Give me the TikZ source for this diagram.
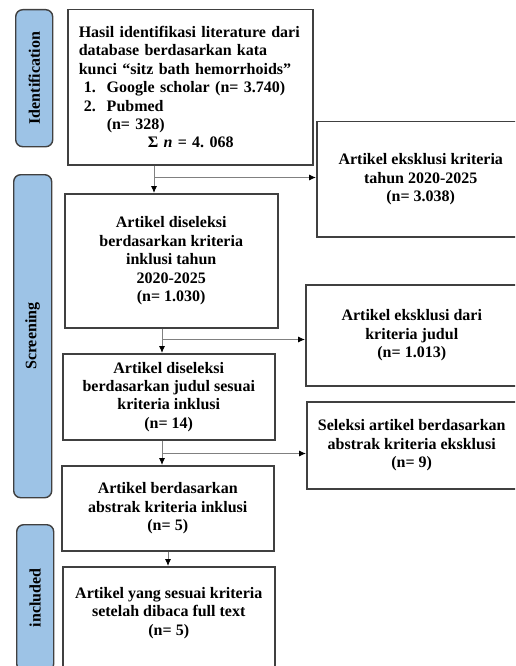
\documentclass[tikz,border=0pt]{standalone}
\usepackage{fontspec}
\setmainfont{Liberation Serif}
\usetikzlibrary{arrows.meta}
\definecolor{pillblue}{RGB}{157,195,230}
\definecolor{boxline}{RGB}{64,64,64}

\begin{document}
\begin{tikzpicture}[x=1pt,y=-1pt,
  every node/.style={font=\fontsize{16}{18.4}\selectfont\bfseries,anchor=north west},
  stage/.style={draw=boxline,fill=pillblue,line width=1.4pt,rounded corners=7pt,inner sep=0pt},
  stepbox/.style={draw=boxline,line width=1.5pt,align=center,inner sep=4pt},
  link/.style={draw=gray,line width=0.9pt,-{Latex[black,length=7pt,width=6pt]}}]
\useasboundingbox (0,0) rectangle (515,666);
\clip (0,0) rectangle (515,666);
% stages
\node[stage,minimum width=37pt,minimum height=137pt] (ident) at (15,9) {\rotatebox{90}{Identification}};
\node[stage,minimum width=38pt,minimum height=323pt] (screen) at (13,174) {\rotatebox{90}{Screening}};
\node[stage,minimum width=37pt,minimum height=146pt] (incl) at (16,524) {\rotatebox{90}{included}};
% main column
\node[stepbox,align=left,text width=223pt,inner xsep=11pt,minimum height=155pt] (hasil) at (67,9)
  {Hasil identifikasi literature dari\\
   database berdasarkan kata\\
   kunci “sitz bath hemorrhoids”\\
   \hspace*{5pt}1.\hspace*{11pt}Google scholar (n= 3.740)\\
   \hspace*{5pt}2.\hspace*{11pt}Pubmed\\
   \hspace*{28pt}(n= 328)\\
   \hspace*{69pt}Σ \textit{n} = 4.\ 068};
\node[stepbox,minimum width=213pt,minimum height=134pt] (tahun) at (64,193)
  {Artikel diseleksi\\berdasarkan kriteria\\inklusi tahun\\2020-2025\\(n= 1.030)};
\node[stepbox,minimum width=212pt,minimum height=86pt] (judul) at (62,353)
  {Artikel diseleksi\\berdasarkan judul sesuai\\kriteria inklusi\\(n= 14)};
\node[stepbox,minimum width=212pt,minimum height=85pt] (abstrak) at (61,465)
  {Artikel berdasarkan\\abstrak kriteria inklusi\\(n= 5)};
\node[stepbox,minimum width=212pt,minimum height=124pt] (fulltext) at (62,566)
  {Artikel yang sesuai kriteria\\setelah dibaca full text\\(n= 5)\\[17pt]\mbox{}};
% excluded column
\node[stepbox,minimum width=208pt,minimum height=115pt] (extahun) at (316,121)
  {Artikel eksklusi kriteria\\tahun 2020-2025\\(n= 3.038)};
\node[stepbox,minimum width=212pt,minimum height=101pt] (exjudul) at (305,284)
  {Artikel eksklusi dari\\kriteria judul\\(n= 1.013)};
\node[stepbox,minimum width=210pt,minimum height=87pt] (exabstrak) at (306,401)
  {Seleksi artikel berdasarkan\\abstrak kriteria eksklusi\\(n= 9)};
% arrows
\draw[link] ([xshift=87pt]hasil.south west) coordinate (d1) -- (d1 |- tahun.north);
\draw[link] ([yshift=-12pt]d1) coordinate (e1) -- (e1 -| extahun.west);
\draw[link] ([xshift=98pt]tahun.south west) coordinate (d2) -- (d2 |- judul.north);
\draw[link] ([yshift=-11pt]d2) coordinate (e2) -- (e2 -| exjudul.west);
\draw[link] ([xshift=100pt]judul.south west) coordinate (d3) -- (d3 |- abstrak.north);
\draw[link] ([yshift=-13pt]d3) coordinate (e3) -- (e3 -| exabstrak.west);
\draw[link] ([xshift=107pt]abstrak.south west) coordinate (d4) -- (d4 |- fulltext.north);
\end{tikzpicture}
\end{document}
